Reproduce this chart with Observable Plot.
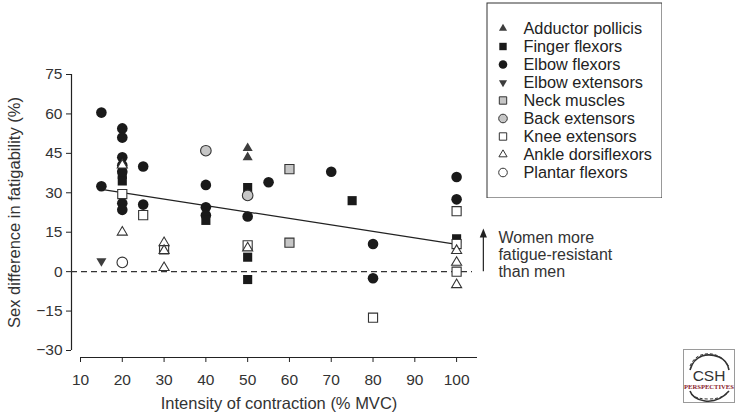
<!DOCTYPE html>
<html>
<head>
<meta charset="utf-8">
<script src="https://cdn.jsdelivr.net/npm/d3@7"></script>
<script src="https://cdn.jsdelivr.net/npm/@observablehq/plot@0.6"></script>
<style>
  body { margin: 0; background: #fff; }
  #wrap { position: relative; width: 750px; height: 414px; font-family: "Liberation Sans", Arial, sans-serif; }
  #chart, #legend, #logo { position: absolute; }
  #chart { left: 0; top: 0; }
  #legend { left: 486px; top: 2px; }
  #logo { left: 683px; top: 349px; }
</style>
</head>
<body>
<div id="wrap">
  <div id="chart"></div>
  <div id="legend"></div>
  <svg id="logo" width="54" height="56" viewBox="0 0 54 56">
    <rect x="0.5" y="0.5" width="51" height="53" fill="#fff" stroke="#9a9a9a" stroke-width="1"/>
    <path d="M7,21 C9,14 13,9 19,7 C25,5 31,6 36,8 C41,10 45,15 46,21" fill="none" stroke="#333" stroke-width="1.6"/>
    <path d="M7,17 C10,10 15,6 22,5 C29,4 35,6 40,10 C43,13 45,16 46,18" fill="none" stroke="#333" stroke-width="1" stroke-dasharray="3,2"/>
    <text x="26" y="32" text-anchor="middle" font-family="Liberation Sans, Arial, sans-serif" font-size="15.5" fill="#333">CSH</text>
    <text x="26" y="40" text-anchor="middle" font-family="Liberation Serif, serif" font-size="6.6" font-weight="bold" fill="#8b1c2c">PERSPECTIVES</text>
    <path d="M7,42 C9,48 15,51 22,52 C30,53 38,51 46,42" fill="none" stroke="#333" stroke-width="1.6"/>
    <path d="M8,45 C12,49 18,50 26,50 C34,50 40,48 45,44" fill="none" stroke="#333" stroke-width="1" stroke-dasharray="3,2"/>
  </svg>
</div>
<script>
// ---- data ----
const categories = ["Adductor pollicis", "Finger flexors", "Elbow flexors", "Elbow extensors",
  "Neck muscles", "Back extensors", "Knee extensors", "Ankle dorsiflexors", "Plantar flexors"];

const adductorX = [50, 50];
const adductorY = [47, 43.5];
const fingerX = [20, 20, 40, 50, 50, 50, 75, 100];
const fingerY = [37, 34.5, 19.5, 32, 5.5, -3, 27, 12.5];
const elbowFlexX = [15, 15, 20, 20, 20, 20, 20, 20, 20, 25, 25, 40, 40, 40, 50, 55, 70, 80, 80, 100, 100];
const elbowFlexY = [60.5, 32.5, 54.5, 51, 43.5, 40.5, 38, 26, 23.5, 40, 25.5, 33, 24.5, 21.5, 21, 34, 38, 10.5, -2.5, 36, 27.5];
const elbowExtX = [15];
const elbowExtY = [4];
const neckX = [60, 60];
const neckY = [39, 11];
const backX = [40, 50];
const backY = [46, 29];
const kneeX = [20, 25, 30, 50, 80, 100, 100, 100];
const kneeY = [29.5, 21.5, 8.5, 10, -17.5, 23, 10.5, 0];
const ankleX = [20, 20, 30, 30, 30, 50, 100, 100, 100];
const ankleY = [40.5, 15, 11, 8, 1.5, 9, 8, 3.5, -5];
const plantarX = [20];
const plantarY = [3.5];

const fitX = [15, 100];
const fitY = [31.3, 10.4];

const xTicks = [10, 20, 30, 40, 50, 60, 70, 80, 90, 100];
const yTicks = [-30, -15, 0, 15, 30, 45, 60, 75];

const xLabel = "Intensity of contraction (% MVC)";
const yLabel = "Sex difference in fatigability (%)";
const note = "Women more\nfatigue-resistant\nthan men";

// ---- symbols ----
function sym(kind) {
  return {
    draw(ctx, size) {
      const r = Math.sqrt(size / Math.PI);
      if (kind === "circle") { ctx.moveTo(r, 0); ctx.arc(0, 0, r, 0, 2 * Math.PI); }
      else if (kind === "square") { const s = r * 0.86; ctx.rect(-s, -s, 2 * s, 2 * s); }
      else if (kind === "up") { const w = r * 0.95, h = r * 1.62; ctx.moveTo(0, -2 * h / 3); ctx.lineTo(w, h / 3); ctx.lineTo(-w, h / 3); ctx.closePath(); }
      else if (kind === "down") { const w = r * 0.95, h = r * 1.62; ctx.moveTo(0, 2 * h / 3); ctx.lineTo(w, -h / 3); ctx.lineTo(-w, -h / 3); ctx.closePath(); }
      else if (kind === "head") { ctx.moveTo(0, 0); ctx.lineTo(3.6, 9); ctx.lineTo(-3.6, 9); ctx.closePath(); }
    }
  };
}

const dark = "#1a1a1a", mid = "#3d3d3d", light = "#c6c6c6", edge = "#333";
const series = [
  {name: "Elbow flexors", xs: elbowFlexX, ys: elbowFlexY, s: "circle", fill: dark, stroke: "none"},
  {name: "Finger flexors", xs: fingerX, ys: fingerY, s: "square", fill: dark, stroke: "none"},
  {name: "Adductor pollicis", xs: adductorX, ys: adductorY, s: "up", fill: mid, stroke: "none"},
  {name: "Elbow extensors", xs: elbowExtX, ys: elbowExtY, s: "down", fill: mid, stroke: "none"},
  {name: "Neck muscles", xs: neckX, ys: neckY, s: "square", fill: light, stroke: edge},
  {name: "Back extensors", xs: backX, ys: backY, s: "circle", fill: light, stroke: edge},
  {name: "Knee extensors", xs: kneeX, ys: kneeY, s: "square", fill: "#fff", stroke: edge},
  {name: "Ankle dorsiflexors", xs: ankleX, ys: ankleY, s: "up", fill: "#fff", stroke: edge},
  {name: "Plantar flexors", xs: plantarX, ys: plantarY, s: "circle", fill: "#fff", stroke: edge}
];
const styleOf = Object.fromEntries(series.map(d => [d.name, d]));

const fit = fitX.map((x, i) => ({x, y: fitY[i]}));

const font = "Liberation Sans, Arial, sans-serif";

const chart = Plot.plot({
  width: 750, height: 414,
  marginLeft: 80, marginRight: 273, marginTop: 74, marginBottom: 64,
  x: {domain: [10, 105]},
  y: {domain: [-30, 75]},
  style: {fontFamily: font, fontSize: "15px", color: "#222", background: "transparent", overflow: "visible"},
  marks: [
    Plot.ruleX([10], {y1: -30, y2: 75, dx: -9, stroke: "#222", strokeWidth: 1.2}),
    Plot.axisY({ticks: yTicks, tickSize: 5, dx: -9, tickPadding: 4, fontSize: 15.5, fill: "#333", stroke: "#222", label: null}),
    Plot.ruleY([-30], {x1: 10, x2: 105, dy: 7, stroke: "#222", strokeWidth: 1.2}),
    Plot.axisX({ticks: xTicks, tickSize: 5, dy: 7, tickPadding: 11, fontSize: 15.5, fill: "#333", stroke: "#222", label: null}),
    Plot.text([xLabel], {frameAnchor: "bottom", dy: 53, fontSize: 16.5, fill: "#333", lineAnchor: "middle", textAnchor: "middle"}),
    Plot.text([yLabel], {frameAnchor: "left", dx: -66, rotate: -90, fontSize: 16.5, fill: "#333", lineAnchor: "middle", textAnchor: "middle"}),
    Plot.ruleY([0], {stroke: "#333", strokeWidth: 1.1, strokeDasharray: "6,4", insetLeft: -9, insetRight: 5}),
    Plot.line(fit, {x: "x", y: "y", stroke: "#222", strokeWidth: 1.2}),
    ...series.map(d => Plot.dot(d.xs.map((x, i) => ({x, y: d.ys[i]})), {
      x: "x", y: "y", r: 5.3, symbol: sym(d.s), fill: d.fill, stroke: d.stroke, strokeWidth: 1.1
    })),
    // annotation arrow and note
    Plot.ruleX([106.4], {y1: 0, y2: 13.5, stroke: "#222", strokeWidth: 1.2}),
    Plot.dot([16.4], {x: 106.4, y: d => d, symbol: sym("head"), r: 4, fill: "#222", stroke: "none"}),
    Plot.text([note], {x: 110, y: 15.6, textAnchor: "start", lineAnchor: "top", lineHeight: 1.06, fontSize: 16, fill: "#333"})
  ]
});
document.getElementById("chart").appendChild(chart);

const legend = Plot.plot({
  width: 176, height: 196, margin: 0,
  x: {domain: [0, 1], axis: null},
  y: {type: "point", domain: categories, range: [16.3, 180.7], axis: null},
  style: {fontFamily: font, background: "#fff"},
  marks: [
    Plot.frame({stroke: "#333", inset: 0.5, strokeWidth: 1}),
    ...categories.map(c => {
      const st = styleOf[c];
      return Plot.dot([c], {y: d => d, frameAnchor: "left", dx: 16.5, r: 4.3, symbol: sym(st.s), fill: st.fill, stroke: st.stroke, strokeWidth: 1});
    }),
    Plot.text(categories, {y: d => d, frameAnchor: "left", dx: 37, textAnchor: "start", fontSize: 16.3, fill: "#222"})
  ]
});
document.getElementById("legend").appendChild(legend);
</script>
</body>
</html>
